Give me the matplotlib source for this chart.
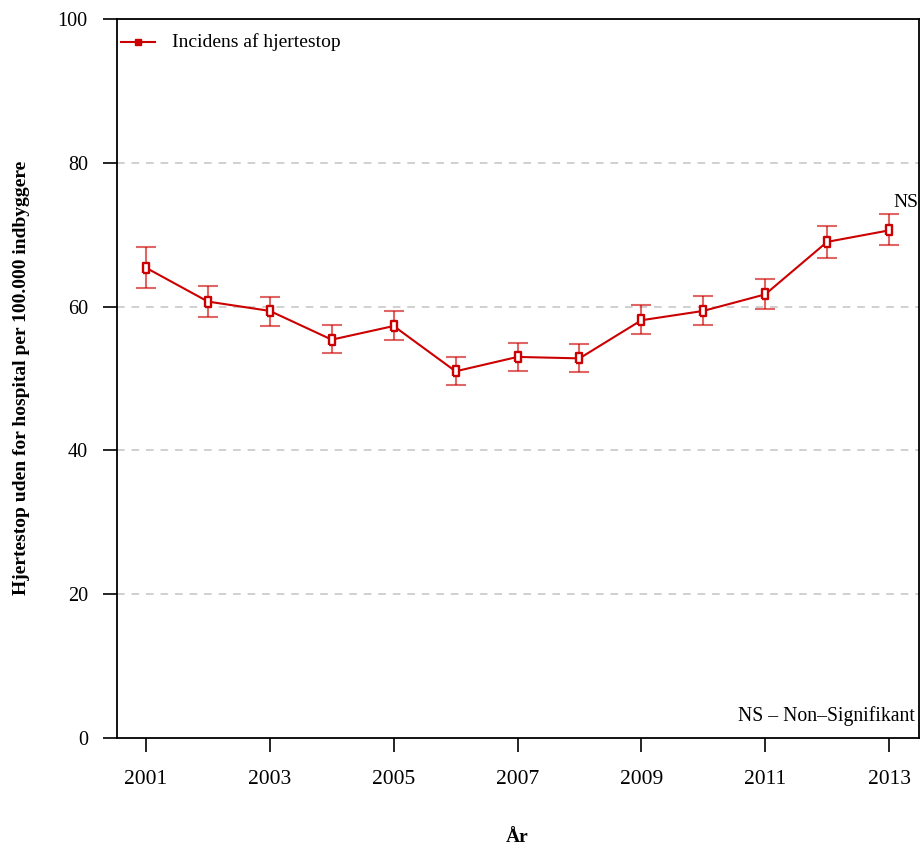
import matplotlib
matplotlib.use("Agg")
import matplotlib.pyplot as plt
import numpy as np

# Incidence of out-of-hospital cardiac arrest per 100,000 inhabitants
years = [2001, 2002, 2003, 2004, 2005, 2006, 2007, 2008, 2009, 2010, 2011, 2012, 2013]
incidence = [65.4, 60.7, 59.4, 55.4, 57.3, 51.0, 53.0, 52.8, 58.1, 59.4, 61.7, 69.0, 70.6]
ci_lower = [62.6, 58.6, 57.3, 53.5, 55.4, 49.1, 51.0, 50.9, 56.2, 57.4, 59.7, 66.8, 68.6]
ci_upper = [68.3, 62.8, 61.4, 57.5, 59.4, 53.0, 54.9, 54.8, 60.2, 61.5, 63.8, 71.2, 72.9]
x_ticks = [2001, 2003, 2005, 2007, 2009, 2011, 2013]
y_ticks = [0, 20, 40, 60, 80, 100]
series_label = "Incidens af hjertestop"
sig_label = "NS"
footnote = "NS \u2013 Non\u2013Signifikant"

plt.rcParams['font.family'] = ['Liberation Serif', 'DejaVu Serif']

RED = '#CC0000'
W, H = 921, 849

fig = plt.figure(figsize=(W / 100, H / 100), dpi=100)
ax = fig.add_axes([117 / W, 1 - 738 / H, (919 - 117) / W, (738 - 19) / H])

ax.set_xlim(2000.532, 2013.484)
ax.set_ylim(0, 100)

# horizontal reference lines
for yv in y_ticks[1:-1]:
    ax.axhline(yv, color='#c4c4c4', lw=1.1, ls=(0, (5, 4.5)), zorder=0)
ax.axhline(100, color='#c4c4c4', lw=1.1, zorder=0)

# confidence intervals
yerr = np.array([np.array(incidence) - np.array(ci_lower),
                 np.array(ci_upper) - np.array(incidence)])
ax.errorbar(years, incidence, yerr=yerr, fmt='none', ecolor=RED, alpha=0.6,
            elinewidth=1.5, capsize=7, capthick=1.5, zorder=2)

rect = [(-0.5, -1), (0.5, -1), (0.5, 1), (-0.5, 1), (-0.5, -1)]
ax.plot(years, incidence, color=RED, lw=1.5, zorder=3)
ax.plot(years, incidence, ls='none', marker=rect, markersize=7.5,
        markerfacecolor='white', markeredgecolor=RED, markeredgewidth=1.7, zorder=4)

# legend drawn by hand (line with square marker)
ax.plot([2000.6, 2001.15], [96.8, 96.8], color=RED, lw=1.5, clip_on=False)
ax.plot([2000.87], [96.8], ls='none', marker='s', markersize=4,
        markerfacecolor=RED, markeredgecolor=RED)
ax.text(2001.42, 96.8, series_label, fontsize=14, va='center', ha='left')

ax.text(years[-1] + 0.47, 74.5, sig_label, fontsize=14, ha='right', va='center')
ax.text(2013.41, 1.6, footnote, fontsize=14.2, ha='right', va='bottom')

ax.set_xticks(x_ticks)
ax.set_xticklabels([str(v) for v in x_ticks], fontsize=15.5)
ax.set_yticks(y_ticks)
ax.set_yticklabels([str(v) for v in y_ticks], fontsize=14.5)
ax.tick_params(axis='both', direction='out', length=10, width=1.2, colors='black')
ax.tick_params(axis='x', pad=13)
ax.tick_params(axis='y', pad=11)

for s in ax.spines.values():
    s.set_linewidth(1.3)
    s.set_color('black')

fig.text(517 / W, 1 - 838 / H, "\u00c5r", fontsize=14, fontweight='bold',
         ha='center', va='center')
fig.text(22 / W, 1 - 378 / H, "Hjertestop uden for hospital per 100.000 indbyggere",
         fontsize=14, fontweight='bold', rotation=90, ha='center', va='center')

fig.savefig("out.png", dpi=100)
